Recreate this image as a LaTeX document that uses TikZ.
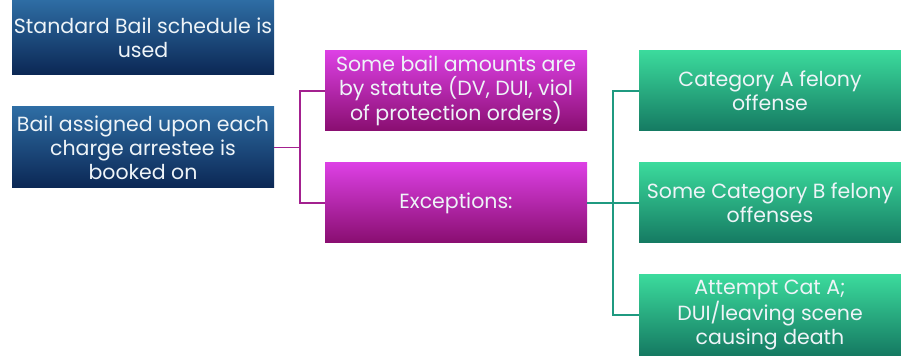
\documentclass[tikz,border=0pt]{standalone}
\usepackage{fontspec}
\setmainfont{Poppins}
\definecolor{bluetop}{HTML}{2E6DA4}
\definecolor{bluebot}{HTML}{0B2754}
\definecolor{magtop}{HTML}{DC40E4}
\definecolor{magbot}{HTML}{890E70}
\definecolor{grntop}{HTML}{3BDA9C}
\definecolor{grnbot}{HTML}{157A62}
\definecolor{magline}{HTML}{A3218F}
\definecolor{grnline}{HTML}{1F9A80}
\definecolor{txt}{HTML}{EEF4F8}
\begin{document}
\begin{tikzpicture}[x=1pt,y=1pt,
  box/.style={rectangle, inner sep=0pt, minimum width=262pt, minimum height=80pt,
    align=center, text=txt, font=\fontsize{20.5}{24}\selectfont},
  bluebox/.style={box, top color=bluetop, bottom color=bluebot},
  magbox/.style={box, top color=magtop, bottom color=magbot},
  grnbox/.style={box, top color=grntop, bottom color=grnbot},
  magconn/.style={draw=magline, line width=1.6pt},
  grnconn/.style={draw=grnline, line width=1.6pt}]
\useasboundingbox (0,0) rectangle (901,361);
\node[bluebox, minimum height=75pt] (b1) at (143,323.5) {Standard Bail schedule is\\used};
\node[bluebox, minimum height=81pt] (b2) at (143,213.5) {Bail assigned upon each\\charge arrestee is\\booked on};
\node[magbox] (m1) at (456,270) {Some bail amounts are\\by statute (DV, DUI, viol\\of protection orders)};
\node[magbox] (m2) at (456,158) {Exceptions:};
\node[grnbox] (g1) at (770,270) {Category A felony\\offense};
\node[grnbox] (g2) at (770,158) {Some Category B felony\\offenses};
\node[grnbox] (g3) at (770,46) {Attempt Cat A;\\DUI/leaving scene\\causing death};
\coordinate (jm) at (300,213.5);
\coordinate (jg) at (613,158);
\draw[magconn] (b2.east) -- (jm);
\draw[magconn] (jm) |- (m1.west);
\draw[magconn] (jm) |- (m2.west);
\draw[grnconn] (m2.east) -- (jg);
\draw[grnconn] (jg) |- (g1.west);
\draw[grnconn] (jg) -- (g2.west);
\draw[grnconn] (jg) |- (g3.west);
\end{tikzpicture}
\end{document}
